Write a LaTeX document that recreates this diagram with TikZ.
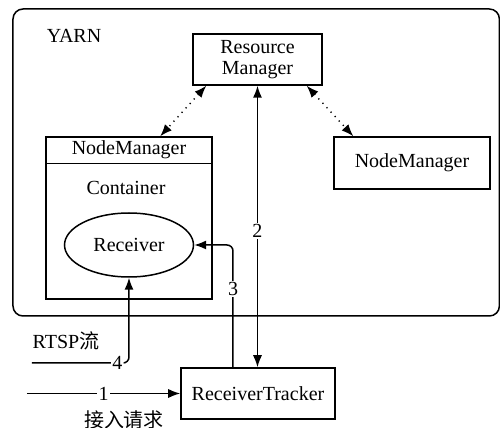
\documentclass[tikz,border=0pt]{standalone}
\usepackage{fontspec}
\setmainfont{Liberation Serif}
\newfontfamily\cjk{Noto Sans CJK SC}
\usetikzlibrary{arrows.meta,shapes.geometric,calc}

\begin{document}
\begin{tikzpicture}[x=0.5pt,y=-0.5pt,
  font=\fontsize{10}{11.5}\selectfont,
  line width=0.75pt,
  box/.style={draw, rectangle, inner sep=0pt, align=center},
  plain/.style={inner sep=0pt, align=center},
  tag/.style={fill=white, inner sep=0.6pt},
  tip/.style={-{Latex[length=6pt,width=4.6pt]}},
  both/.style={{Latex[length=6pt,width=4.6pt]}-{Latex[length=6pt,width=4.6pt]}},
  dotboth/.style={both, dash pattern=on 0.6pt off 2.4pt, line width=0.7pt}
]
\useasboundingbox (0,0) rectangle (500,428);

% YARN cluster frame
\draw[rounded corners=5pt] (13,9) rectangle (499.4,316);
\node[plain] (yarn) at (74,36) {YARN};

% resource manager
\node[box, minimum width=64.5pt, minimum height=25.5pt] (rm) at (257.5,59.5)
  {Resource\\[-1pt]Manager};

% node manager with container
\node[box, minimum width=83pt, minimum height=81pt] (nm1) at (129,218) {};
\node[plain, minimum width=83pt, minimum height=13pt, anchor=north] (nmh) at (nm1.north) {NodeManager};
\draw (nmh.south -| nm1.west) -- (nmh.south -| nm1.east);
\node[plain] (contlabel) at (126,188) {Container};
\node[draw, ellipse, minimum width=64.5pt, minimum height=32pt, inner sep=0pt] (recv)
  at (129,245) {Receiver};

% second node manager
\node[box, minimum width=78pt, minimum height=26pt] (nm2) at (412,163) {NodeManager};

% receiver tracker
\node[box, minimum width=77pt, minimum height=25.5pt] (rt) at (258,393.5) {ReceiverTracker};

% heartbeat links
\draw[dotboth] ([xshift=7pt]rm.south west) -- ([xshift=57.5pt]nm1.north west);
\draw[dotboth] ([xshift=-8pt]rm.south east) -- ([xshift=10pt]nm2.north west);

% 2: tracker <-> resource manager
\draw[both] (rm.south) -- (rm.south |- rt.north)
  node[tag, pos=0.515] {2};

% 3: tracker -> receiver
\draw[tip, rounded corners=3pt] ([xshift=-12.5pt]rt.north) |- (recv.east)
  node[tag, pos=0.32] {3};

% 4: RTSP stream into receiver
\coordinate (s4) at (32,363);
\node[plain] (rtsp) at (66,341) {RTSP{\cjk 流}};
\draw[tip, rounded corners=3pt] (s4) -| (recv.south)
  node[tag, pos=0.44] {4};

% 1: access request
\coordinate (s1) at (27,393.5);
\draw[tip] (s1) -- (rt.west) node[tag, pos=0.5] {1};
\node[plain] (req) at (124,420) {\cjk 接入请求};
\end{tikzpicture}
\end{document}
